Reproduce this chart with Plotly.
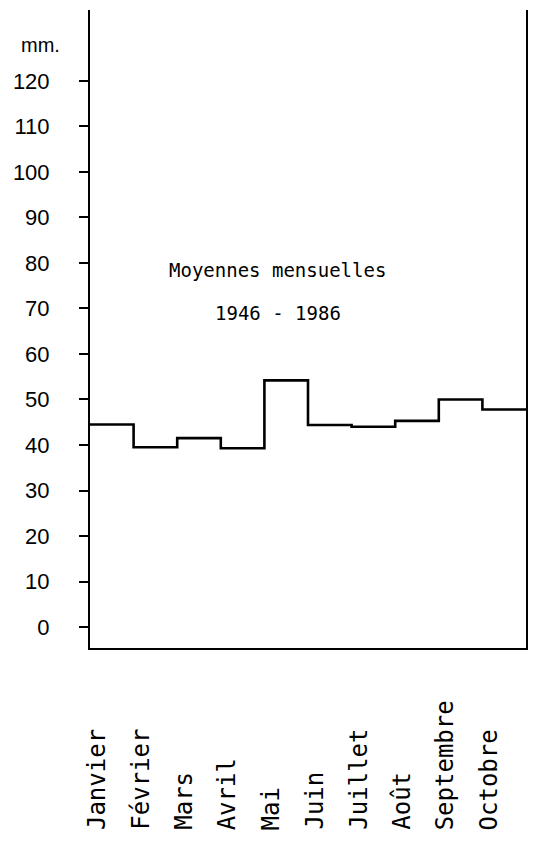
import plotly.graph_objects as go

months = ["Janvier", "Février", "Mars", "Avril", "Mai", "Juin", "Juillet", "Août", "Septembre", "Octobre"]
values = [44.5, 39.5, 41.5, 39.3, 54.2, 44.4, 44.0, 45.3, 50.0, 47.8]
ytick_vals = [0, 10, 20, 30, 40, 50, 60, 70, 80, 90, 100, 110, 120]
title_lines = ["Moyennes mensuelles", "1946 - 1986"]
unit_label = "mm."

x_edges = list(range(len(months) + 1))
y_steps = values + [values[-1]]

fig = go.Figure()
fig.add_trace(go.Scatter(
    x=x_edges, y=y_steps, mode="lines", line=dict(shape="hv", color="black", width=2.6),
    hoverinfo="skip", showlegend=False))

# page body has a default 8px margin, so the figure is drawn 8px smaller
W, H = 528, 833
L, R, T, B = 82, 10, 2, 193
PW, PH = W - L - R, H - T - B
fig.update_layout(
    width=W, height=H, margin=dict(l=L, r=R, t=T, b=B, autoexpand=False),
    paper_bgcolor="white", plot_bgcolor="white", showlegend=False,
    xaxis=dict(range=[0, 10], showline=True, linecolor="black", linewidth=2,
               showgrid=False, zeroline=False, showticklabels=False, ticks=""),
    yaxis=dict(range=[-4.615, 135.6], showline=True, linecolor="black", linewidth=2, mirror=True,
               showgrid=False, zeroline=False, tickvals=ytick_vals,
               ticktext=[str(v) for v in ytick_vals],
               ticks="outside", ticklen=9, tickwidth=2, tickcolor="black",
               ticklabelstandoff=25,
               tickfont=dict(family="Liberation Sans", size=22, color="black")),
)

for i, m in enumerate(months):
    fig.add_annotation(x=i + 0.15, xref="x", y=(PH + T - 824) / PH, yref="paper",
                       text=m, textangle=-90, showarrow=False,
                       xanchor="center", yanchor="bottom",
                       font=dict(family="DejaVu Sans Mono", size=24, color="black"))

fig.add_annotation(x=4.31, y=78.5, xref="x", yref="y", text=title_lines[0], showarrow=False,
                   xanchor="center", yanchor="middle",
                   font=dict(family="DejaVu Sans Mono", size=19, color="black"))
fig.add_annotation(x=4.31, y=69.0, xref="x", yref="y", text=title_lines[1], showarrow=False,
                   xanchor="center", yanchor="middle",
                   font=dict(family="DejaVu Sans Mono", size=19, color="black"))
fig.add_annotation(x=(32 - L) / PW, y=(PH + T - 37) / PH, xref="paper", yref="paper",
                   text=unit_label, showarrow=False, xanchor="center", yanchor="middle",
                   font=dict(family="Liberation Sans", size=20, color="black"))

fig.write_html("out.html")
